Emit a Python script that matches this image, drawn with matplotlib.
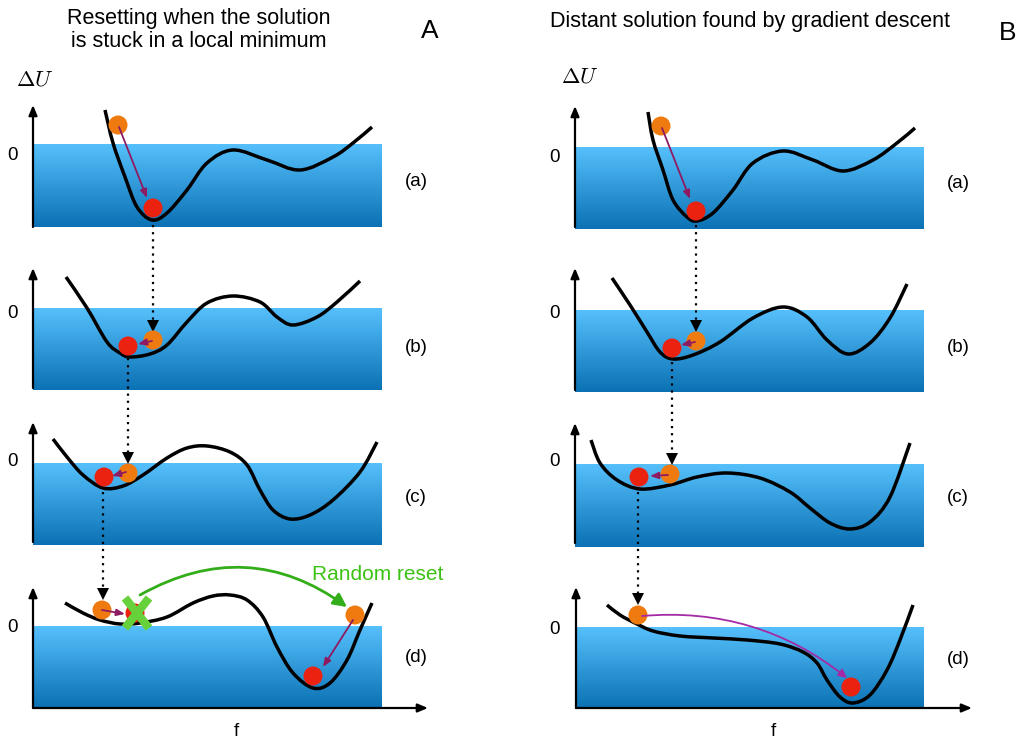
import numpy as np
import matplotlib
matplotlib.use("Agg")
import matplotlib.pyplot as plt
from matplotlib.path import Path
from matplotlib.patches import PathPatch, Circle, FancyArrowPatch
from matplotlib.colors import LinearSegmentedColormap

plt.rcParams["font.family"] = ["Liberation Sans", "DejaVu Sans"]
plt.rcParams["mathtext.fontset"] = "cm"

# ---------------- data (schematic, pixel space) ----------------
title_A = "Resetting when the solution\nis stuck in a local minimum"
title_B = "Distant solution found by gradient descent"
panel_tags = ["(a)", "(b)", "(c)", "(d)"]

# water rectangles: left, right, tops, bottoms
A_rect_x = [33, 382]
A_rect_top = [144, 308, 463, 626]
A_rect_bot = [227, 390, 545, 707]
B_rect_x = [575, 924]
B_rect_top = [147, 310, 464, 627]
B_rect_bot = [229, 392, 547, 708]

# vertical axis arrows (x, y_bottom, y_tip)
A_yaxis = [(33, 227, 105), (33, 388, 268), (33, 542, 422), (33, 708, 587)]
B_yaxis = [(575, 227, 106), (575, 390, 268), (575, 543, 423), (576, 708, 587)]
A_xaxis = (33, 428, 708)
B_xaxis = (576, 972, 708)

A_zero_y = [155, 313, 462, 628]
B_zero_y = [157, 313, 462, 630]
A_tag_y = [182, 347, 497, 657]
B_tag_y = [183, 348, 497, 660]

# energy landscapes
A_curve_a = [(105, 110), (113, 143), (125, 177), (137, 207), (152, 220), (167, 213),
             (187, 190), (207, 163), (233, 150), (267, 160), (300, 170), (333, 157),
             (353, 143), (372, 127)]
A_curve_b = [(66, 277), (87, 308), (107, 342), (120, 353), (130, 357), (150, 354),
             (167, 345), (187, 322), (207, 303), (233, 296), (260, 302), (277, 317),
             (293, 325), (317, 317), (337, 302), (360, 281)]
A_curve_c = [(53, 439), (67, 457), (83, 475), (103, 488), (123, 486), (143, 475),
             (167, 458), (187, 448), (207, 446), (230, 452), (247, 465), (260, 490),
             (273, 510), (290, 519), (310, 515), (333, 500), (360, 472), (377, 442)]
A_curve_d = [(65, 603), (83, 613), (100, 620), (120, 624), (140, 623), (167, 617),
             (193, 603), (213, 596), (230, 595), (247, 600), (263, 617), (277, 647),
             (293, 673), (313, 688), (330, 683), (347, 660), (360, 630), (372, 603)]
B_curve_a = [(648, 112), (653, 140), (663, 170), (673, 200), (687, 217), (697, 221),
             (713, 213), (733, 190), (753, 163), (783, 151), (813, 160), (843, 171),
             (873, 160), (897, 143), (915, 128)]
B_curve_b = [(612, 278), (630, 305), (647, 332), (660, 352), (673, 359), (693, 355),
             (720, 342), (753, 318), (783, 307), (807, 317), (827, 340), (848, 354),
             (870, 343), (890, 318), (907, 284)]
B_curve_c = [(591, 440), (600, 463), (617, 480), (640, 489), (670, 485), (697, 477),
             (727, 473), (760, 478), (790, 492), (810, 508), (830, 523), (850, 529),
             (870, 522), (890, 497), (910, 443)]
B_curve_d = [(607, 605), (620, 615), (635, 623), (653, 631), (680, 636), (713, 638),
             (747, 640), (780, 644), (803, 652), (817, 663), (827, 680), (840, 697),
             (853, 703), (870, 695), (887, 670), (900, 640), (913, 605)]

# balls: (x, y)
A_orange = [(118, 125), (153, 340), (128, 473), (102, 610), (355, 615)]
A_red = [(153, 208), (128, 346), (104, 477), (135, 613), (313, 676)]
B_orange = [(661, 126), (696, 341), (670, 474), (638, 615)]
B_red = [(696, 211), (672, 348), (639, 477), (851, 687)]

# short descent arrows (start, end)
A_descent = [((119, 127), (147, 198)), ((152, 341), (138, 344)), ((126, 472), (112, 476)),
             ((102, 610), (125, 614)), ((353, 620), (323, 667))]
B_descent = [((662, 128), (690, 199)), ((695, 342), (681, 345)), ((668, 475), (650, 476))]
B_long_descent = ((642, 616), (847, 678))

# dotted connectors (x, y_start, y_end)
A_dots = [(153, 225, 330), (128, 358, 462), (103, 492, 598)]
B_dots = [(696, 225, 330), (672, 362, 463), (638, 492, 603)]

green_reset = ((140, 595), (347, 607))
green_x_center = (137, 613)

# ---------------- styles ----------------
ORANGE = "#EF7B10"
RED = "#EC2211"
PURPLE = "#8E1A62"
PURPLE2 = "#A42AA6"
GREEN_X = "#66D13A"
GREEN_ARC = "#33AD1A"
GREEN_TXT = "#3CC214"
water_cmap = LinearSegmentedColormap.from_list("water", ["#56C0FC", "#0B71B4"])

fig = plt.figure(figsize=(10.22, 7.43), dpi=100)
ax = fig.add_axes([0, 0, 1, 1])
ax.axis("off")


def smooth_path(pts):
    p = np.asarray(pts, float)
    n = len(p)
    verts = [p[0]]
    codes = [Path.MOVETO]
    for i in range(n - 1):
        p0 = p[max(i - 1, 0)]
        p1 = p[i]
        p2 = p[i + 1]
        p3 = p[min(i + 2, n - 1)]
        c1 = p1 + (p2 - p0) / 6.0
        c2 = p2 - (p3 - p1) / 6.0
        verts += [c1, c2, p2]
        codes += [Path.CURVE4] * 3
    return Path(verts, codes)


grad = np.linspace(0, 1, 256).reshape(-1, 1)


def draw_rect(x, top, bot):
    ax.imshow(grad, cmap=water_cmap, extent=(x[0], x[1], bot, top), origin="upper",
              aspect="auto", zorder=1, interpolation="bilinear")


for t, b in zip(A_rect_top, A_rect_bot):
    draw_rect(A_rect_x, t, b)
for t, b in zip(B_rect_top, B_rect_bot):
    draw_rect(B_rect_x, t, b)

axis_kw = dict(arrowstyle="-|>,head_length=0.6,head_width=0.25", color="black", lw=1.6,
               shrinkA=0, shrinkB=0)
for x, y0, y1 in A_yaxis + B_yaxis:
    ax.annotate("", xy=(x, y1), xytext=(x, y0), arrowprops=axis_kw, zorder=3)
for x0, x1, y in (A_xaxis, B_xaxis):
    ax.annotate("", xy=(x1, y), xytext=(x0, y), arrowprops=axis_kw, zorder=3)

for c in (A_curve_a, A_curve_b, A_curve_c, A_curve_d,
          B_curve_a, B_curve_b, B_curve_c, B_curve_d):
    ax.add_patch(PathPatch(smooth_path(c), fill=False, lw=2.5, color="black",
                           capstyle="butt", zorder=4))

for x, y0, y1 in A_dots + B_dots:
    ax.plot([x, x], [y0, y1 - 8], ls=(0, (1, 2.2)), color="black", lw=1.6, zorder=3)
    ax.plot([x], [y1 - 4], marker="v", ms=8, color="black", mew=0, zorder=3)

R = 9.5
for (x, y) in A_red + B_red:
    ax.add_patch(Circle((x, y), R, color=RED, ec="none", zorder=5))
for (x, y) in A_orange + B_orange:
    ax.add_patch(Circle((x, y), R, color=ORANGE, ec="none", zorder=5))

small_kw = dict(arrowstyle="-|>,head_length=0.5,head_width=0.2", color=PURPLE, lw=1.3,
                shrinkA=0, shrinkB=0)
for s, e in A_descent + B_descent:
    ax.annotate("", xy=e, xytext=s, arrowprops=small_kw, zorder=6)

ax.add_patch(FancyArrowPatch(B_long_descent[0], B_long_descent[1],
                             connectionstyle="arc3,rad=-0.2",
                             arrowstyle="-|>,head_length=5,head_width=2.5",
                             color=PURPLE2, lw=1.3, shrinkA=0, shrinkB=0, zorder=6))

ax.add_patch(FancyArrowPatch(green_reset[0], green_reset[1],
                             connectionstyle="arc3,rad=-0.32",
                             arrowstyle="-|>,head_length=8,head_width=4",
                             color=GREEN_ARC, lw=2.0, shrinkA=0, shrinkB=0, zorder=6))

gx, gy = green_x_center
for dx in (-1, 1):
    ax.plot([gx - 12 * dx, gx + 12 * dx], [gy - 15, gy + 15], color=GREEN_X, lw=6,
            solid_capstyle="butt", zorder=7)

# texts
ax.text(199, 30, title_A, ha="center", va="center", fontsize=15.5, linespacing=1.1)
ax.text(750, 22, title_B, ha="center", va="center", fontsize=15.5)
ax.text(430, 31, "A", ha="center", va="center", fontsize=19)
ax.text(1008, 33, "B", ha="center", va="center", fontsize=19)
ax.text(35, 80, r"$\Delta U$", ha="center", va="center", fontsize=16)
ax.text(580, 77, r"$\Delta U$", ha="center", va="center", fontsize=16)
for y in A_zero_y:
    ax.text(13, y, "0", ha="center", va="center", fontsize=13.5)
for y in B_zero_y:
    ax.text(555, y, "0", ha="center", va="center", fontsize=13.5)
for t, y in zip(panel_tags, A_tag_y):
    ax.text(416, y, t, ha="center", va="center", fontsize=13.5)
for t, y in zip(panel_tags, B_tag_y):
    ax.text(958, y, t, ha="center", va="center", fontsize=13.5)
ax.text(236, 732, "f", ha="center", va="center", fontsize=13.5)
ax.text(773, 732, "f", ha="center", va="center", fontsize=13.5)
ax.text(378, 575, "Random reset", ha="center", va="center", fontsize=15, color=GREEN_TXT)

ax.set_xlim(0, 1022)
ax.set_ylim(743, 0)
fig.savefig("out.png", dpi=100)
